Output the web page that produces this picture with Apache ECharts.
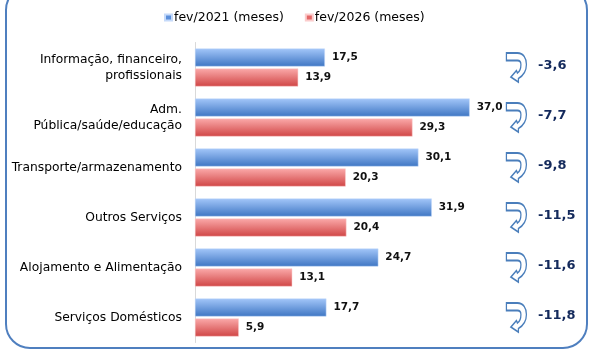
<!DOCTYPE html>
<html><head><meta charset="utf-8">
<script src="https://cdn.jsdelivr.net/npm/echarts@6/dist/echarts.min.js"></script>
<style>html,body{margin:0;padding:0;background:#fff}#c{width:598px;height:358px}</style>
</head><body><div id="c"></div>
<script>
const categories = ['Informação, financeiro,\nprofissionais','Adm.\nPública/saúde/educação','Transporte/armazenamento','Outros Serviços','Alojamento e Alimentação','Serviços Domésticos'];
const seriesNames = ['fev/2021 (meses)','fev/2026 (meses)'];
const v2021 = [17.5, 37.0, 30.1, 31.9, 24.7, 17.7];
const v2026 = [13.9, 29.3, 20.3, 20.4, 13.1, 5.9];
const diffs = [-3.6, -7.7, -9.8, -11.5, -11.6, -11.8];

const FONT = 'DejaVu Sans';
const fmt = v => v.toFixed(1).replace('.', ',');
const arrowPath = 'path://M0,0 L11,0 C17,0 20,5 20,11.5 C20,18 17,22.5 12,25.5 L12,29 L4.5,24 L10,17.5 L11,20 C13.5,18.5 14.5,15 14.5,11.5 C14.5,9 13,7.5 11,7.5 L0,7.5 Z';

const blueGrad = new echarts.graphic.LinearGradient(0,0,0,1,[{offset:0,color:'#a3c6f9'},{offset:1,color:'#3e76c3'}]);
const redGrad = new echarts.graphic.LinearGradient(0,0,0,1,[{offset:0,color:'#fbaaaa'},{offset:1,color:'#d04545'}]);

const chart = echarts.init(document.getElementById('c'), null, {renderer:'canvas'});
chart.setOption({
  animation:false,
  textStyle:{fontFamily:FONT},
  graphic:[{type:'rect', shape:{x:6,y:-14,width:581,height:362,r:24}, style:{fill:'none',stroke:'#4f7fbf',lineWidth:2}, z:-1}],
  legend:{
    top:11, left:164, padding:0, itemWidth:7, itemHeight:6, itemGap:21, icon:'rect',
    data:[{name:seriesNames[0], itemStyle:{color:'#5b8fdb'}},{name:seriesNames[1], itemStyle:{color:'#e46767'}}],
    textStyle:{fontFamily:FONT, fontSize:12.5, color:'#000', padding:[0,0,0,-3]}
  },
  grid:{left:195, right:17, top:42.5, bottom:15.5},
  xAxis:{type:'value', min:0, max:52, show:false},
  yAxis:{type:'category', data:categories, inverse:true,
    axisLine:{show:true, lineStyle:{color:'#d9d9d9'}}, axisTick:{show:false},
    axisLabel:{fontFamily:FONT, fontSize:12.3, color:'#000', margin:13, lineHeight:16, align:'right'}},
  series:[
    {name:seriesNames[0], type:'bar', data:v2021, barWidth:18, barGap:'11%',
     itemStyle:{color:blueGrad, borderColor:'#c5dafa', borderWidth:0.5},
     label:{show:true, position:'right', distance:7, formatter:p=>fmt(p.value), fontFamily:FONT, fontSize:10.5, fontWeight:'bold', color:'#111'}},
    {name:seriesNames[1], type:'bar', data:v2026, barWidth:18,
     itemStyle:{color:redGrad, borderColor:'#fbcccc', borderWidth:0.5},
     label:{show:true, position:'right', distance:7, formatter:p=>fmt(p.value), fontFamily:FONT, fontSize:10.5, fontWeight:'bold', color:'#111'}},
    {name:'diff', type:'scatter', data:diffs.map((d,i)=>[43.3, i, d]),
     symbol:arrowPath, symbolSize:[20,29],
     itemStyle:{color:'#fff', borderColor:'#4a7ebb', borderWidth:1.5, opacity:1},
     label:{show:true, position:'right', distance:11, offset:[0,-2], formatter:p=>fmt(p.value[2]), fontFamily:FONT, fontSize:13, fontWeight:'bold', color:'#142a5c'},
     z:3}
  ]
});
</script></body></html>
